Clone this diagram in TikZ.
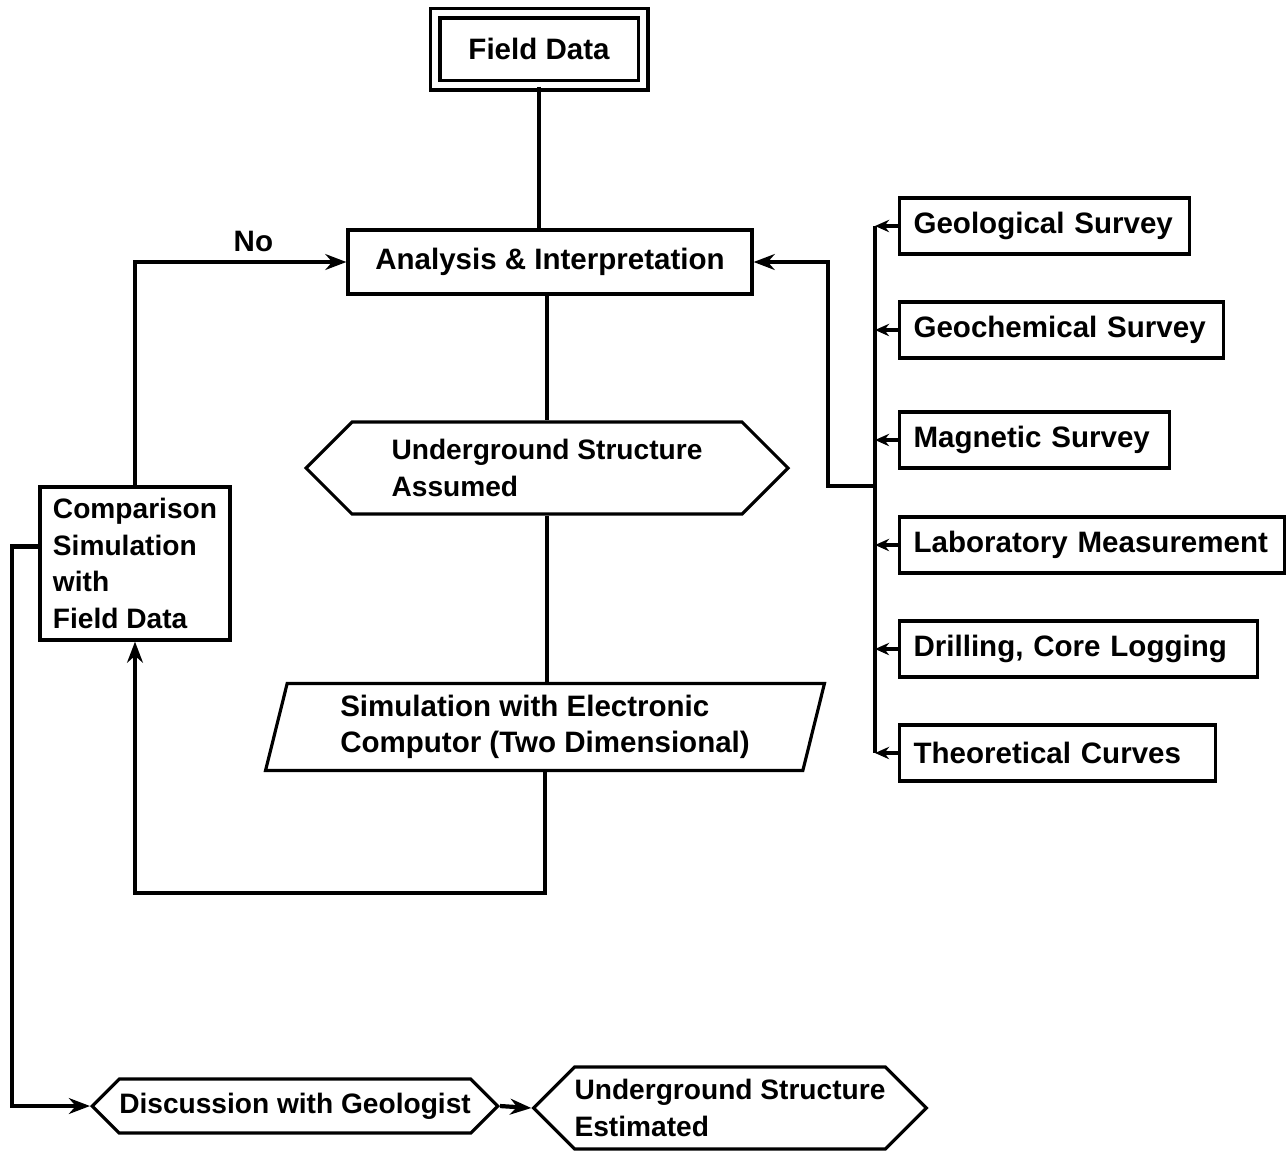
\documentclass[tikz,border=0pt]{standalone}
\usepackage{fontspec}
\setmainfont{Liberation Sans}
\usetikzlibrary{arrows.meta, positioning, shapes.geometric, shapes.symbols, calc}
\hyphenpenalty=10000

\begin{document}
\begin{tikzpicture}[
    every node/.style={font=\bfseries\fontsize{8.4}{10.4}\selectfont},
    small/.style={font=\bfseries\fontsize{8.0}{10.4}\selectfont},
    block/.style={rectangle, draw=black, line width=0.9pt, inner sep=0pt, align=center},
    srcbox/.style={rectangle, draw=black, line width=0.9pt, anchor=west, align=left,
                   minimum height=0.56cm, inner xsep=0.14cm, text width=#1},
    hexbox/.style={signal, signal to=west and east, draw=black, line width=0.9pt,
                   align=left, inner sep=0pt, small},
    slantbox/.style={trapezium, trapezium left angle=75, trapezium right angle=105,
                   trapezium stretches=true, draw=black, line width=0.9pt, align=left, inner sep=0pt},
    conn/.style={line width=1.2pt, color=black},
    arr/.style={-{Stealth[length=6pt, width=4.5pt]}, line width=1.2pt, color=black},
    tip/.style={-{Stealth[length=4pt, width=3.5pt]}, line width=0.9pt, color=black},
]
\useasboundingbox (0,0) rectangle (12.88,-11.54);

% main column
\node[block, double, double distance=1.9pt, minimum width=2.08cm, minimum height=0.72cm] (field) at (5.39,-0.49) {Field Data};
\node[block, minimum width=4.04cm, minimum height=0.64cm] (ana) at (5.50,-2.62) {Analysis \& Interpretation};
\node[hexbox, minimum width=4.82cm, minimum height=0.92cm] (assumed) at (5.47,-4.68) {Underground Structure\\Assumed};
\node[slantbox, minimum width=5.60cm, minimum height=0.87cm] (sim) at (5.45,-7.27) {Simulation with Electronic\\Computor (Two Dimensional)};
\node[block, small, minimum width=1.90cm, minimum height=1.53cm, align=left] (comp) at (1.35,-5.635) {Comparison\\Simulation\\with\\Field Data};

% bottom row
\node[hexbox, minimum width=4.00cm, minimum height=0.54cm] (disc) at (2.95,-11.06) {Discussion with Geologist};
\node[hexbox, minimum width=3.84cm, minimum height=0.82cm] (est) at (7.30,-11.08) {Underground Structure\\Estimated};

% sources
\node[srcbox=2.62cm] (geo) at (8.98,-2.26) {Geological Survey};
\node[srcbox=2.96cm] (chem) at (8.98,-3.30) {Geochemical Survey};
\node[srcbox=2.42cm] (mag) at (8.98,-4.40) {Magnetic Survey};
\node[srcbox=3.57cm] (lab) at (8.98,-5.45) {Laboratory Measurement};
\node[srcbox=3.30cm] (drill) at (8.98,-6.49) {Drilling, Core Logging};
\node[srcbox=2.88cm] (theo) at (8.98,-7.53) {Theoretical Curves};

% connectors
\draw[conn] (field.south) -- (field.south |- ana.north);
\draw[conn] (assumed.north |- ana.south) -- (assumed.north);
\draw[conn] (assumed.south) -- (assumed.south |- sim.north);
\coordinate (loop) at (1.35,-8.93);
\draw[arr] (sim.south) |- (loop) -- (comp.south);
\draw[arr] (comp.north) |- node[pos=0.78, above=-1pt]{No} (ana.west);
\coordinate (lft) at (0.12,-11.06);
\draw[arr] (comp.170) -| (lft) -- (disc.west);
\draw[arr] (disc.east) -- (est.west);

% sources to bus
\coordinate (busx) at (8.75,0);
\draw[conn] (geo.west -| busx) -- (theo.west -| busx);
\foreach \s in {geo, chem, mag, lab, drill, theo}
    \draw[tip] (\s.west) -- (\s.west -| busx);
\coordinate (join) at (8.28,-4.86);
\draw[arr] (join -| busx) -- (join) |- (ana.east);

\end{tikzpicture}
\end{document}
